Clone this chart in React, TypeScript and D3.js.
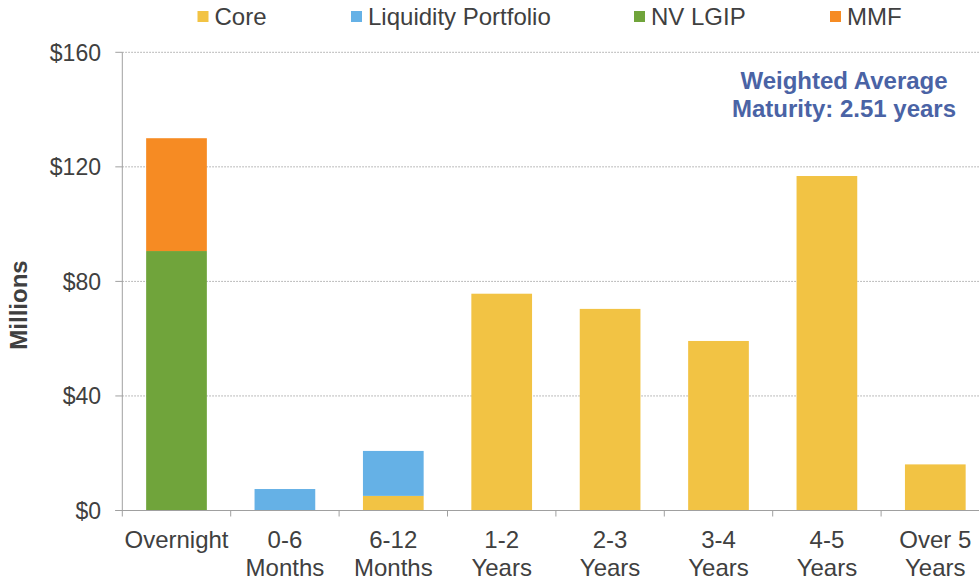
import React, { useEffect, useRef } from 'react'
import * as d3 from 'd3'

const categories = ['Overnight', '0-6 Months', '6-12 Months', '1-2 Years', '2-3 Years', '3-4 Years', '4-5 Years', 'Over 5 Years']
const seriesNames = ['Core', 'Liquidity Portfolio', 'NV LGIP', 'MMF']
const core = [0, 0, 5.1, 75.7, 70.4, 59.2, 116.8, 16.1]
const liquidity = [0, 7.5, 15.7, 0, 0, 0, 0, 0]
const nvLgip = [90.6, 0, 0, 0, 0, 0, 0, 0]
const mmf = [39.4, 0, 0, 0, 0, 0, 0, 0]
const yTicks = [0, 40, 80, 120, 160]

const colors = ['#F2C344', '#65B1E6', '#70A43B', '#F68B23']
const textColor = '#404040'
const font = '"Liberation Sans", Arial, sans-serif'

function drawChart(svgEl: SVGSVGElement) {
    const svg = d3.select(svgEl)
    svg.selectAll('*').remove()

    const left = 122.3
    const top = 52.3
    const bottom = 510.5
    const bandRight = 989.5

    const rows = categories.map((c, i) => ({
        cat: c,
        Core: core[i],
        'Liquidity Portfolio': liquidity[i],
        'NV LGIP': nvLgip[i],
        MMF: mmf[i],
    }))

    const x = d3.scaleBand().domain(categories).range([left, bandRight]).paddingInner(0.44).paddingOuter(0.22)
    const y = d3.scaleLinear().domain([0, 160]).range([bottom, top])

    // gridlines
    svg.append('g')
        .selectAll('line')
        .data(yTicks.filter(t => t > 0))
        .enter()
        .append('line')
        .attr('x1', left)
        .attr('x2', 979)
        .attr('y1', d => y(d))
        .attr('y2', d => y(d))
        .attr('stroke', '#a6a6a6')
        .attr('stroke-width', 1)
        .attr('stroke-dasharray', '1.5,1.5')

    // bars
    const stack = d3.stack<any>().keys(seriesNames)(rows)
    svg.append('g')
        .selectAll('g')
        .data(stack)
        .enter()
        .append('g')
        .attr('fill', (d, i) => colors[i])
        .selectAll('rect')
        .data(d => d.filter(p => p[1] - p[0] > 0))
        .enter()
        .append('rect')
        .attr('x', d => x(d.data.cat) as number)
        .attr('width', x.bandwidth())
        .attr('y', d => y(d[1]))
        .attr('height', d => y(d[0]) - y(d[1]))

    // y axis
    const yAxis = svg.append('g')
    yAxis.append('line')
        .attr('x1', left).attr('x2', left)
        .attr('y1', top).attr('y2', bottom + 6)
        .attr('stroke', '#a0a0a0')
    yAxis.selectAll('line.tick')
        .data(yTicks)
        .enter()
        .append('line')
        .attr('class', 'tick')
        .attr('x1', left - 7).attr('x2', left)
        .attr('y1', d => y(d)).attr('y2', d => y(d))
        .attr('stroke', '#a0a0a0')
    yAxis.selectAll('text')
        .data(yTicks)
        .enter()
        .append('text')
        .attr('x', 101)
        .attr('y', d => y(d))
        .attr('dy', '0.36em')
        .attr('text-anchor', 'end')
        .attr('font-size', 23)
        .attr('font-family', font)
        .attr('fill', textColor)
        .text(d => '$' + d)

    // x axis
    const xAxis = svg.append('g')
    xAxis.append('line')
        .attr('x1', left - 7).attr('x2', 979)
        .attr('y1', bottom).attr('y2', bottom)
        .attr('stroke', '#a0a0a0')
    const step = x.step()
    const boundaries = categories.map((c, i) => left + i * step).filter(v => v > left)
    xAxis.selectAll('line.tick')
        .data(boundaries)
        .enter()
        .append('line')
        .attr('class', 'tick')
        .attr('x1', d => d).attr('x2', d => d)
        .attr('y1', bottom).attr('y2', bottom + 6)
        .attr('stroke', '#a0a0a0')
    const labels = xAxis.selectAll('text')
        .data(categories)
        .enter()
        .append('text')
        .attr('text-anchor', 'middle')
        .attr('font-size', 24)
        .attr('font-family', font)
        .attr('fill', textColor)
    labels.each(function (d) {
        const cx = (x(d) as number) + x.bandwidth() / 2
        const words = d === 'Overnight' ? ['Overnight'] : d === 'Over 5 Years' ? ['Over 5', 'Years'] : d.split(' ')
        words.forEach((w, i) => {
            d3.select(this).append('tspan')
                .attr('x', cx)
                .attr('y', 548 + i * 28)
                .text(w)
        })
    })

    // y title
    svg.append('text')
        .attr('transform', 'translate(27,305) rotate(-90)')
        .attr('text-anchor', 'middle')
        .attr('font-size', 24)
        .attr('font-weight', 'bold')
        .attr('font-family', font)
        .attr('fill', textColor)
        .text('Millions')

    // annotation
    const note = svg.append('text')
        .attr('text-anchor', 'middle')
        .attr('font-size', 24)
        .attr('font-weight', 'bold')
        .attr('font-family', font)
        .attr('fill', '#4A63A5')
    note.append('tspan').attr('x', 844).attr('y', 89).text('Weighted Average')
    note.append('tspan').attr('x', 844).attr('y', 117).text('Maturity: 2.51 years')

    // legend
    const legendX = [197.5, 351, 634, 830]
    const legend = svg.append('g')
        .selectAll('g')
        .data(seriesNames)
        .enter()
        .append('g')
        .attr('transform', (d, i) => `translate(${legendX[i]},0)`)
    legend.append('rect')
        .attr('x', 0).attr('y', 11)
        .attr('width', 11).attr('height', 11)
        .attr('fill', (d, i) => colors[i])
    legend.append('text')
        .attr('x', 17)
        .attr('y', 25)
        .attr('font-size', 24)
        .attr('font-family', font)
        .attr('fill', textColor)
        .text(d => d)
}

export default function App() {
    const ref = useRef<SVGSVGElement>(null)

    useEffect(() => {
        if (ref.current) drawChart(ref.current)
    }, [])

    return (
        <svg ref={ref} width={979} height={578} style={{ position: 'absolute', left: 0, top: 0, background: '#fff' }} />
    )
}
